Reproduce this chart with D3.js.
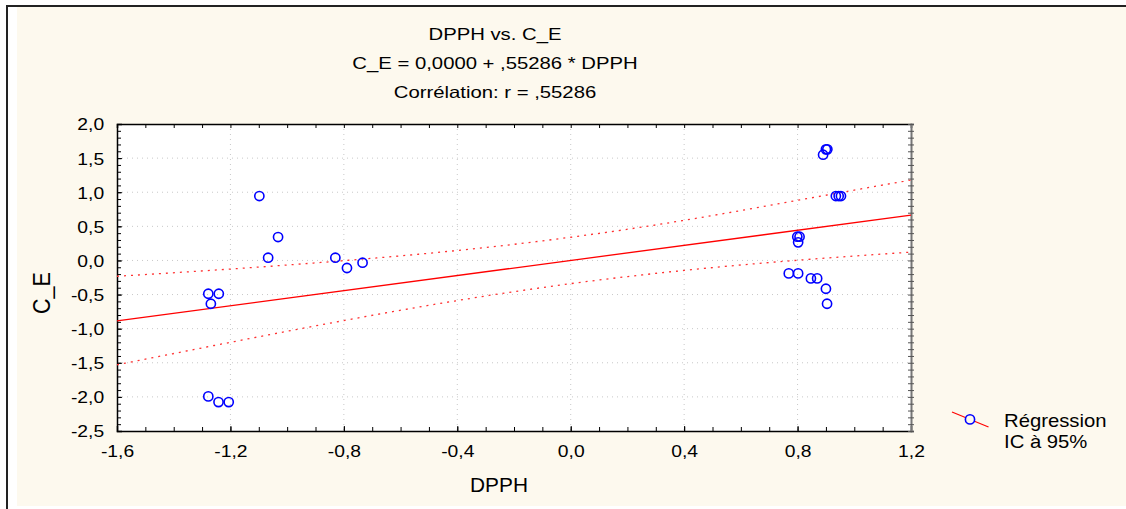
<!DOCTYPE html>
<html>
<head>
<meta charset="utf-8">
<script src="https://cdn.jsdelivr.net/npm/d3@7"></script>
<style>
  body { margin: 0; background: #fff; }
</style>
</head>
<body>
<svg width="1126" height="509"></svg>
<script>
// DPPH (x) and C_E (y)
const dpph = [
  -1.098, -1.032, -1.067, -0.830, -0.789, -0.734,
  -1.278, -1.241, -1.269, -1.278, -1.242, -1.206,
  0.900, 0.905, 0.890, 0.935, 0.945, 0.953,
  0.799, 0.807, 0.802, 0.769, 0.802, 0.847, 0.869, 0.900, 0.904
];
const ce = [
  0.944, 0.343, 0.040, 0.040, -0.111, -0.033,
  -0.488, -0.488, -0.635, -1.993, -2.076, -2.076,
  1.629, 1.629, 1.550, 0.944, 0.944, 0.944,
  0.348, 0.348, 0.265, -0.190, -0.190, -0.263, -0.263, -0.415, -0.635
];

// regression C_E = 0,0000 + ,55286 * DPPH
const intercept = 0.0;
const slope = 0.55286;

// 95% band read at the x ticks
const bandX = [-1.6, -1.2, -0.8, -0.4, 0, 0.4, 0.8, 1.2];
const bandUpper = [-0.232, -0.126, -0.003, 0.146, 0.340, 0.588, 0.881, 1.180];
const bandLower = [-1.530, -1.200, -0.881, -0.588, -0.340, -0.146, 0.003, 0.122];

const xTicks = [-1.6, -1.2, -0.8, -0.4, 0.0, 0.4, 0.8, 1.2];
const yTicks = [-2.5, -2.0, -1.5, -1.0, -0.5, 0.0, 0.5, 1.0, 1.5, 2.0];

const titleLines = ['DPPH vs. C_E', 'C_E = 0,0000 + ,55286 * DPPH', 'Corrélation: r = ,55286'];
const legendLabels = ['Régression', 'IC à 95%'];

const FONT = '"Liberation Sans", Arial, sans-serif';

const svg = d3.select('svg');
const fmt = v => d3.format('.1f')(v).replace('.', ',').replace('−', '-');

// the original is a little stretched sideways, so text gets a scaleX
const styleText = (sel, size) => sel
  .style('font-family', FONT)
  .style('font-size', size + 'px')
  .style('fill', '#000');

const placeText = (parent, str, x, y, size, sx, anchor, extra = '') =>
  styleText(parent.append('text')
    .attr('transform', `translate(${x},${y}) scale(${sx},1)${extra}`)
    .attr('text-anchor', anchor)
    .text(str), size);

// frame and cream background
svg.append('rect').attr('x', 17).attr('y', 7).attr('width', 1120).attr('height', 499)
  .attr('fill', '#fdf9ee');
svg.append('path').attr('d', 'M7,509 V6 H1126')
  .attr('fill', 'none').attr('stroke', '#222').attr('stroke-width', 2);

const margin = { top: 124, left: 117 };
const innerWidth = 911 - margin.left;
const innerHeight = 431 - margin.top;

const xScale = d3.scaleLinear().domain([-1.6, 1.2]).range([0, innerWidth]);
const yScale = d3.scaleLinear().domain([-2.5, 2.0]).range([innerHeight, 0]);

const g = svg.append('g').attr('transform', `translate(${margin.left},${margin.top})`);

g.append('rect').attr('width', innerWidth).attr('height', innerHeight).attr('fill', '#fff');

// dotted grid
g.selectAll('.vgrid').data(xTicks.slice(1, -1)).enter().append('line')
  .attr('x1', d => xScale(d)).attr('x2', d => xScale(d))
  .attr('y1', 0).attr('y2', innerHeight)
  .attr('stroke', '#c8c8c8').attr('stroke-dasharray', '1,4');
g.selectAll('.hgrid').data(yTicks.slice(1, -1)).enter().append('line')
  .attr('y1', d => yScale(d)).attr('y2', d => yScale(d))
  .attr('x1', 0).attr('x2', innerWidth)
  .attr('stroke', '#c8c8c8').attr('stroke-dasharray', '1,4');

// minor ticks every 0.1
const xMinor = d3.range(-16, 13).map(i => i / 10);
const yMinor = d3.range(-25, 21).map(i => i / 10);

const tickSx = 1.17;

const bottomAxis = d3.axisBottom(xScale).tickValues(xTicks).tickFormat(fmt).tickSize(-5).tickPadding(14);
const xAxisG = g.append('g').attr('transform', `translate(0,${innerHeight})`).call(bottomAxis);
styleText(xAxisG.selectAll('text'), 16.5).attr('dy', '0.71em').attr('transform', `scale(${tickSx},1)`);
xAxisG.select('.domain').attr('stroke', '#000').attr('stroke-width', 1.5);
g.append('g').attr('transform', `translate(0,${innerHeight})`)
  .call(d3.axisBottom(xScale).tickValues(xMinor).tickFormat('').tickSize(-4))
  .select('.domain').remove();
g.append('g').call(d3.axisTop(xScale).tickValues(xMinor).tickFormat('').tickSize(-4))
  .select('.domain').attr('stroke', '#000').attr('stroke-width', 1.5);

const leftAxis = d3.axisLeft(yScale).tickValues(yTicks).tickFormat(fmt).tickSize(-5).tickPadding(11);
const yAxisG = g.append('g').call(leftAxis);
styleText(yAxisG.selectAll('text'), 16.5).attr('dy', '0.36em').attr('transform', `scale(${tickSx},1)`);
yAxisG.select('.domain').attr('stroke', '#000').attr('stroke-width', 1.5);
g.append('g').call(d3.axisLeft(yScale).tickValues(yMinor).tickFormat('').tickSize(-4))
  .select('.domain').remove();

const rightG = g.append('g').attr('transform', `translate(${innerWidth},0)`);
rightG.call(d3.axisRight(yScale).tickValues(yMinor).tickFormat('').tickSize(3));
rightG.append('g').call(d3.axisLeft(yScale).tickValues(yMinor).tickFormat('').tickSize(3))
  .select('.domain').remove();
rightG.selectAll('line').attr('stroke', '#555');
rightG.select('.domain').attr('stroke', '#777').attr('stroke-width', 2);

// confidence band
const bandLine = d3.line()
  .x(d => xScale(d[0]))
  .y(d => yScale(d[1]))
  .curve(d3.curveNatural);
[bandUpper, bandLower].forEach(vals => {
  g.append('path')
    .attr('d', bandLine(bandX.map((x, i) => [x, vals[i]])))
    .attr('fill', 'none').attr('stroke', '#ff3030').attr('stroke-width', 1.3)
    .attr('stroke-dasharray', '2,5');
});

// regression line
const xDomain = xScale.domain();
g.append('line')
  .attr('x1', xScale(xDomain[0])).attr('y1', yScale(intercept + slope * xDomain[0]))
  .attr('x2', xScale(xDomain[1])).attr('y2', yScale(intercept + slope * xDomain[1]))
  .attr('stroke', '#ff0000').attr('stroke-width', 1.3);

// points
g.selectAll('.pt').data(dpph).enter().append('circle')
  .attr('cx', d => xScale(d))
  .attr('cy', (d, i) => yScale(ce[i]))
  .attr('r', 4.6)
  .attr('fill', 'none').attr('stroke', '#0000ff').attr('stroke-width', 1.6);

// titles
const titleBase = [40, 68.5, 97.5];
titleLines.forEach((t, i) => placeText(svg, t, 495, titleBase[i], 16.5, 1.23, 'middle'));

// axis labels
placeText(svg, 'DPPH', 499, 491.5, 19.5, 1.07, 'middle');
placeText(svg, 'C_E', 50, 293, 21.5, 1.1, 'middle', ' rotate(-90)');

// legend
const legend = svg.append('g').attr('transform', 'translate(952,412)');
legend.append('line').attr('x1', 0).attr('y1', 0).attr('x2', 36.5).attr('y2', 15)
  .attr('stroke', '#ff0000').attr('stroke-width', 1.2);
legend.append('circle').attr('cx', 18).attr('cy', 7.4).attr('r', 4.6)
  .attr('fill', '#fdf9ee').attr('stroke', '#0000ff').attr('stroke-width', 1.6);
legendLabels.forEach((t, i) => placeText(legend, t, 52, 14.7 + i * 21.6, 18.6, 1.09, 'start'));
</script>
</body>
</html>
